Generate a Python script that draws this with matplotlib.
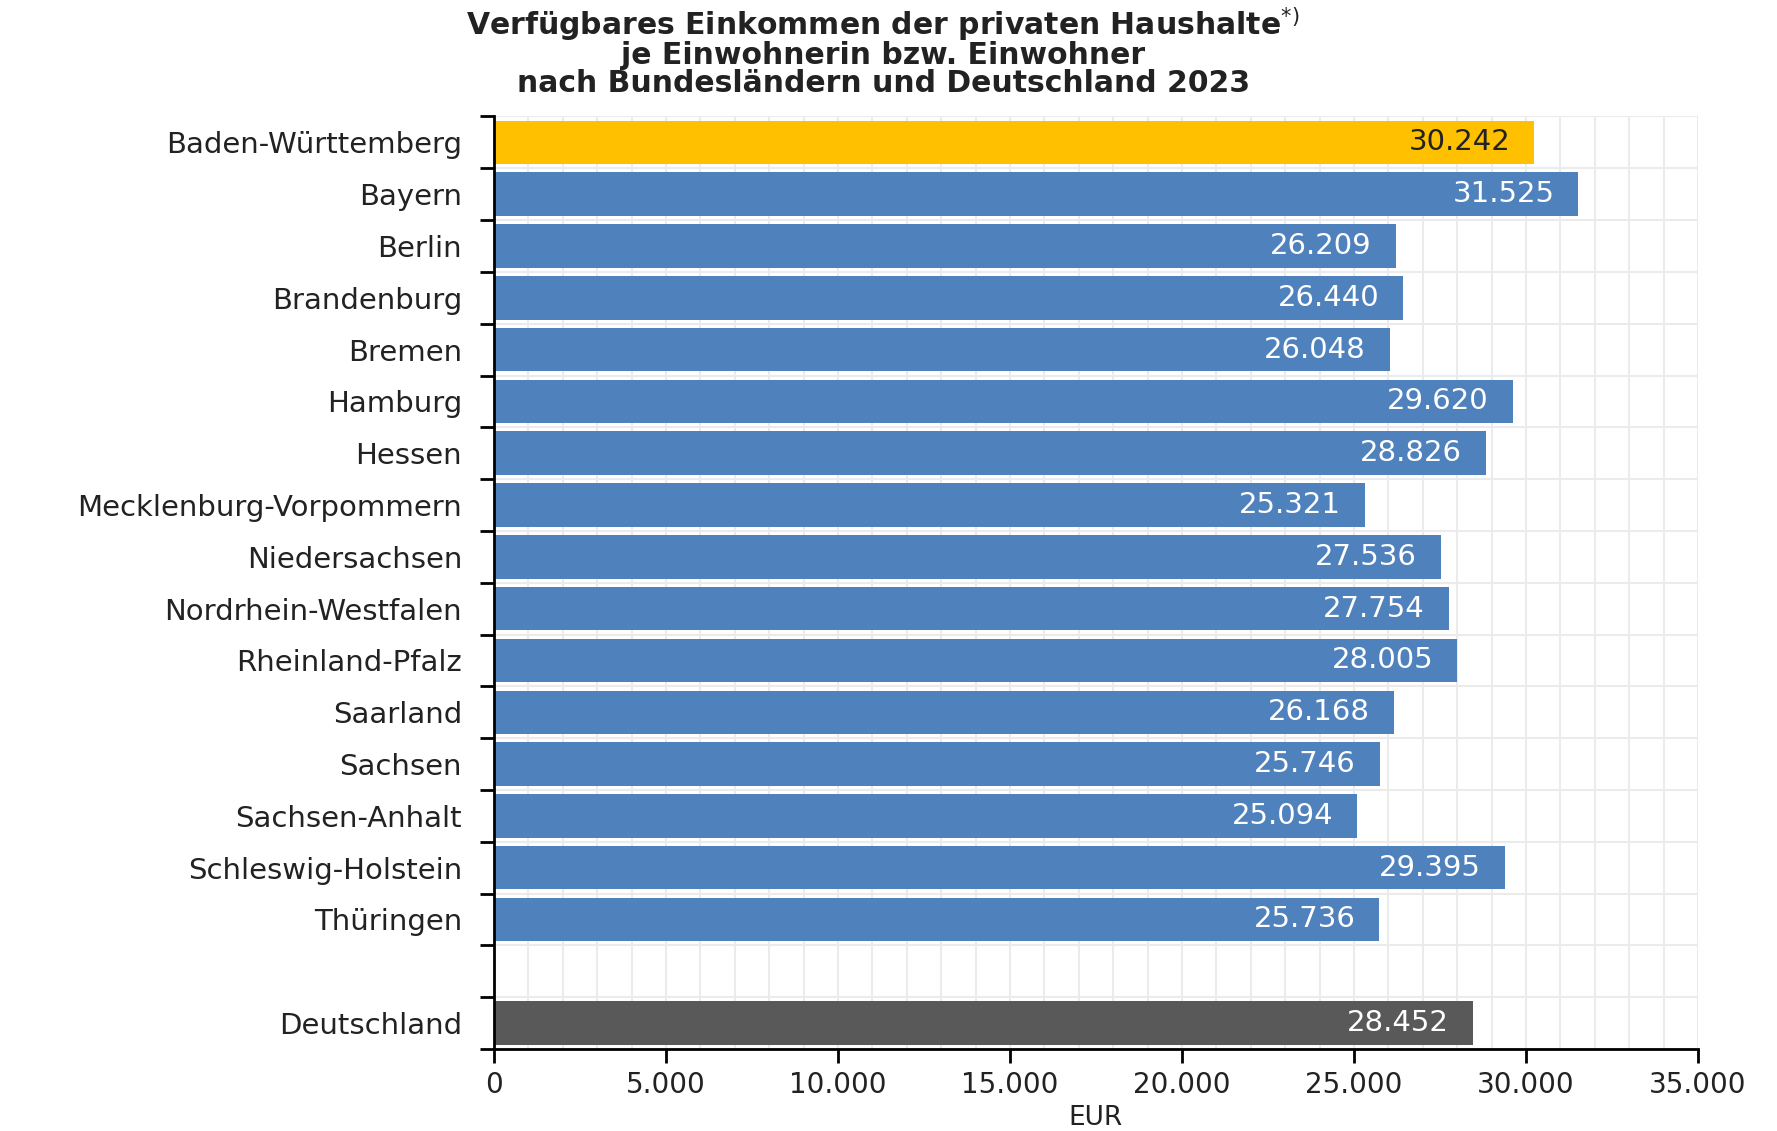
import matplotlib
matplotlib.use("Agg")
import matplotlib.pyplot as plt
from matplotlib.ticker import FuncFormatter, MultipleLocator, FixedLocator

# Daten: verfügbares Einkommen je Einwohner 2023 (EUR)
laender = [
    "Baden-Württemberg", "Bayern", "Berlin", "Brandenburg", "Bremen",
    "Hamburg", "Hessen", "Mecklenburg-Vorpommern", "Niedersachsen",
    "Nordrhein-Westfalen", "Rheinland-Pfalz", "Saarland", "Sachsen",
    "Sachsen-Anhalt", "Schleswig-Holstein", "Thüringen",
]
einkommen = [
    30242, 31525, 26209, 26440, 26048, 29620, 28826, 25321, 27536,
    27754, 28005, 26168, 25746, 25094, 29395, 25736,
]
deutschland_label = "Deutschland"
deutschland_wert = 28452

FARBE_BW = "#FFC000"
FARBE_LAND = "#4F81BD"
FARBE_DE = "#595959"
TEXT = "#222222"


def fmt_de(v, _pos=None):
    return f"{int(round(v)):,}".replace(",", ".")


fig = plt.figure(figsize=(17.77, 11.31), dpi=100)
ax = fig.add_axes([0.278, 0.0725, 0.6775, 0.8245])

labels = laender + [deutschland_label]
werte = einkommen + [deutschland_wert]
pos = list(range(len(laender))) + [len(laender) + 1]
farben = [FARBE_BW] + [FARBE_LAND] * (len(laender) - 1) + [FARBE_DE]

ax.barh(pos, werte, height=0.84, color=farben, zorder=2)

# Werte in die Balken schreiben
for p, w, c in zip(pos, werte, farben):
    ax.annotate(fmt_de(w), xy=(w, p), xytext=(-24, 0), textcoords="offset pixels",
                ha="right", va="center", fontsize=21,
                color=TEXT if c == FARBE_BW else "white", zorder=3)

ax.set_xlim(0, 35000)
ax.set_ylim(len(laender) + 1.5, -0.5)

ax.set_yticks(pos)
ax.set_yticklabels(labels, fontsize=21, color=TEXT)
ax.tick_params(axis="y", which="major", length=0, pad=23)
grenzen = [i - 0.5 for i in range(len(laender) + 3)]
ax.yaxis.set_minor_locator(FixedLocator(grenzen))
ax.tick_params(axis="y", which="minor", length=10, width=2, color="black")

ax.xaxis.set_major_locator(MultipleLocator(5000))
ax.xaxis.set_minor_locator(MultipleLocator(1000))
ax.xaxis.set_major_formatter(FuncFormatter(fmt_de))
ax.tick_params(axis="x", which="major", length=10, width=2, labelsize=20,
               labelcolor=TEXT, pad=6)
ax.tick_params(axis="x", which="minor", length=0)

ax.grid(axis="x", which="both", color="#ebebeb", linewidth=1.5, zorder=0)
ax.grid(axis="y", which="minor", color="#ebebeb", linewidth=1.5, zorder=0)
ax.grid(axis="y", which="major", visible=False)
ax.set_axisbelow(True)

for s in ("top", "right"):
    ax.spines[s].set_visible(False)
for s in ("left", "bottom"):
    ax.spines[s].set_linewidth(2)
    ax.spines[s].set_color("black")

ax.set_xlabel("EUR", fontsize=19, color=TEXT, va="center")
ax.xaxis.set_label_coords(0.5, -0.074)

fig.text(0.497, 0.996,
         "Verfügbares Einkommen der privaten Haushalte$^{*)}$\n"
         "je Einwohnerin bzw. Einwohner\n"
         "nach Bundesländern und Deutschland 2023",
         ha="center", va="top", fontsize=21.5, fontweight="bold",
         color=TEXT, linespacing=0.95)

fig.savefig("out.png", dpi=100)
